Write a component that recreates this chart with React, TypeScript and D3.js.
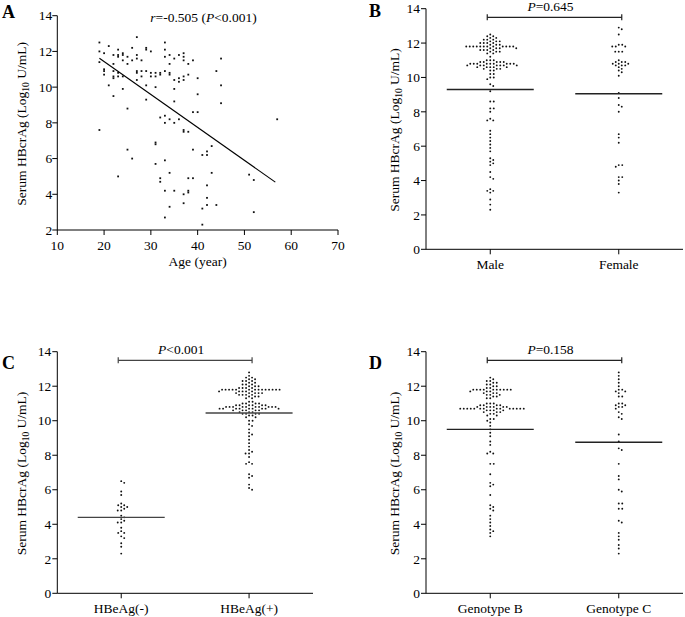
import React from 'react';
import * as d3 from 'd3';

const FONT = '"Liberation Serif", "Times New Roman", Times, serif';

// ---------- Panel A data ----------
const ageTicks = [10, 20, 30, 40, 50, 60, 70];
const yTicksA = [2, 4, 6, 8, 10, 12, 14];
const scatterPoints: [number, number][] = [
  [19, 12.5], [19, 12.0], [19, 11.4], [19, 7.6],
  [20, 11.9], [20, 11.0], [20, 10.9], [20, 10.7],
  [21, 12.3], [21, 10.1],
  [22, 11.8], [22, 11.3], [22, 10.9], [22, 10.6], [22, 10.5], [22, 9.5],
  [23, 12.1], [23, 11.8], [23, 11.7], [23, 10.8], [23, 10.6], [23, 5.0],
  [24, 11.9], [24, 11.8], [24, 11.5], [24, 10.6], [24, 9.9],
  [25, 11.7], [25, 11.3], [25, 8.8], [25, 6.5],
  [26, 12.2], [26, 11.5], [26, 6.0],
  [27, 12.8], [27, 11.8], [27, 11.6], [27, 10.9], [27, 10.8], [27, 10.4],
  [28, 11.5], [28, 10.9], [28, 10.6],
  [29, 12.2], [29, 12.1], [29, 10.9], [29, 10.1], [29, 9.3],
  [30, 12.0], [30, 10.8], [30, 10.6],
  [31, 10.8], [31, 10.6], [31, 10.0], [31, 6.9], [31, 6.8], [31, 5.7],
  [32, 10.8], [32, 10.7], [32, 8.3], [32, 4.9], [32, 4.7],
  [33, 12.5], [33, 12.1], [33, 11.7], [33, 10.9], [33, 8.4], [33, 8.0], [33, 5.9], [33, 4.2], [33, 2.7],
  [34, 11.8], [34, 11.3], [34, 10.8], [34, 10.7], [34, 8.2], [34, 5.2], [34, 3.3],
  [35, 11.6], [35, 10.4], [35, 9.9], [35, 9.2], [35, 8.0], [35, 4.2],
  [36, 11.8], [36, 10.5], [36, 10.3], [36, 8.2],
  [37, 11.9], [37, 11.7], [37, 11.5], [37, 10.6], [37, 10.4], [37, 7.6], [37, 7.5], [37, 4.0], [37, 3.5],
  [38, 11.3], [38, 10.7], [38, 7.5], [38, 4.9], [38, 4.2], [38, 4.1],
  [39, 11.5], [39, 8.6], [39, 6.5], [39, 4.9],
  [40, 10.5], [40, 9.6], [40, 8.6],
  [41, 6.2], [41, 3.2], [41, 2.3],
  [42, 6.4], [42, 6.2], [42, 4.5], [42, 3.8], [42, 3.4],
  [43, 6.7], [43, 5.2],
  [44, 10.9], [44, 3.4],
  [45, 11.6], [45, 10.1], [45, 9.1],
  [51, 5.1],
  [52, 4.8], [52, 3.0],
  [57, 8.2],
];
const regressionX = [19, 56.6];
const regressionY = [11.62, 4.68];

// ---------- Dot plot data ----------
const yTicksDot = [0, 2, 4, 6, 8, 10, 12, 14];

const sexCategories = ['Male', 'Female'];
const maleValues = [
  12.5, 12.4, 12.4, 12.3, 12.3, 12.2, 12.2, 12.2, 12.1, 12.1, 12.1,
  12.0, 12.0, 12.0, 12.0, 11.9, 11.9, 11.9,
  11.8, 11.8, 11.8, 11.8, 11.8, 11.8, 11.8, 11.8, 11.8, 11.8, 11.8, 11.8,
  11.7, 11.7, 11.7, 11.7, 11.6, 11.6, 11.6, 11.6, 11.5, 11.5, 11.5, 11.4, 11.4, 11.2,
  11.0, 11.0, 11.0, 10.9, 10.9, 10.9, 10.9, 10.9,
  10.8, 10.8, 10.8, 10.8, 10.8, 10.8, 10.8, 10.8, 10.8,
  10.7, 10.7, 10.7, 10.7, 10.7, 10.7, 10.7, 10.6, 10.6, 10.6, 10.6, 10.6,
  10.5, 10.5, 10.5, 10.4, 10.4, 10.2, 10.2, 10.0, 10.0, 9.9, 9.6, 9.5, 9.2,
  8.6, 8.6, 8.2, 8.2, 8.0, 7.6, 7.5, 7.5, 6.9, 6.7, 6.5, 6.3, 6.1, 5.9, 5.7,
  5.3, 5.2, 5.1, 5.0, 4.9, 4.5, 4.2, 4.1, 3.5, 3.4, 3.4, 3.3, 2.9, 2.6, 2.3,
];
const femaleValues = [
  12.9, 12.8, 12.5, 11.9, 11.9, 11.8, 11.8, 11.8, 11.5, 11.5, 11.5,
  11.0, 10.9, 10.9, 10.9, 10.8, 10.8, 10.8, 10.7, 10.7, 10.7, 10.6,
  10.5, 10.4, 10.3, 10.1, 9.1, 8.8, 8.4, 8.3, 8.0, 6.7, 6.5, 6.2,
  4.9, 4.9, 4.8, 4.2, 4.2, 4.0, 3.8, 3.3,
];
const sexMeans = [9.3, 9.05];

const hbeagCategories = ['HBeAg(-)', 'HBeAg(+)'];
const hbeagNegValues = [
  6.5, 6.4, 5.9, 5.7, 5.2, 5.1, 5.1, 5.0, 5.0, 4.9, 4.8, 4.8, 4.5, 4.4, 4.3,
  4.2, 4.1, 4.1, 3.8, 3.6, 3.5, 3.5, 3.3, 3.2, 2.9, 2.7, 2.3,
];
const hbeagPosValues = [
  12.8, 12.6, 12.5, 12.5, 12.4, 12.4, 12.3, 12.3, 12.3, 12.2, 12.2, 12.1, 12.1, 12.1,
  12.0, 12.0, 12.0, 11.9, 11.9, 11.9, 11.9,
  11.8, 11.8, 11.8, 11.8, 11.8, 11.8, 11.8, 11.8, 11.8, 11.8, 11.8, 11.8, 11.8, 11.8,
  11.7, 11.7, 11.7, 11.7, 11.7, 11.6, 11.6, 11.6, 11.6, 11.6,
  11.5, 11.5, 11.5, 11.5, 11.4, 11.4, 11.4, 11.3, 11.3, 11.1, 11.1,
  11.0, 11.0, 11.0, 11.0, 10.9, 10.9, 10.9, 10.9, 10.9, 10.9,
  10.8, 10.8, 10.8, 10.8, 10.8, 10.8, 10.8, 10.8, 10.8, 10.8,
  10.7, 10.7, 10.7, 10.7, 10.7, 10.7, 10.7, 10.7, 10.7,
  10.6, 10.6, 10.6, 10.6, 10.6, 10.5, 10.5, 10.5, 10.4, 10.4, 10.4, 10.4,
  10.3, 10.3, 10.2, 10.2, 10.0, 10.0, 9.8, 9.7, 9.5, 9.3, 9.2, 9.1, 8.9, 8.7, 8.5,
  8.3, 8.2, 8.1, 8.1, 7.9, 7.6, 7.5, 7.5, 6.9, 6.8, 6.7, 6.3, 6.1, 6.0,
];
const hbeagMeans = [4.4, 10.45];

const genotypeCategories = ['Genotype B', 'Genotype C'];
const genotypeBValues = [
  12.5, 12.4, 12.3, 12.3, 12.2, 12.2, 12.1, 12.1, 12.0, 12.0, 11.9, 11.9,
  11.8, 11.8, 11.8, 11.8, 11.8, 11.8, 11.8, 11.8, 11.8, 11.8,
  11.7, 11.7, 11.7, 11.6, 11.6, 11.6, 11.5, 11.5, 11.5, 11.4, 11.4, 11.3, 11.3,
  11.0, 11.0, 11.0, 10.9, 10.9, 10.9, 10.9, 10.8, 10.8, 10.8, 10.8, 10.8, 10.8,
  10.7, 10.7, 10.7, 10.7, 10.7, 10.7, 10.7, 10.7, 10.7, 10.7, 10.7, 10.7, 10.7, 10.7,
  10.6, 10.6, 10.6, 10.6, 10.5, 10.5, 10.5, 10.4, 10.4, 10.3, 10.3, 10.1, 10.1,
  10.0, 9.9, 9.7, 9.5, 9.3, 9.1, 8.8, 8.6, 8.2, 8.1, 8.1, 7.5, 7.5, 6.9,
  6.4, 6.3, 6.2, 5.7, 5.1, 5.0, 4.9, 4.8, 4.5, 4.3, 4.1, 3.9, 3.7, 3.6, 3.5, 3.3,
];
const genotypeCValues = [
  12.8, 12.6, 12.4, 12.2, 12.0, 11.8, 11.8, 11.7, 11.7, 11.6, 11.4, 11.4,
  11.0, 11.0, 10.9, 10.9, 10.8, 10.8, 10.7, 10.5, 10.4, 10.2, 10.1,
  9.2, 8.8, 8.4, 8.3, 7.5, 6.8, 6.6, 6.0, 5.9, 5.2, 5.2, 4.9, 4.9,
  4.2, 4.1, 3.5, 3.3, 3.1, 2.8, 2.6, 2.3,
];
const genotypeMeans = [9.5, 8.75];

// ---------- helpers ----------
const Y_LABEL_MAIN = 'Serum HBcrAg (Log';
const Y_LABEL_SUB = '10';
const Y_LABEL_END = ' U/mL)';

function YLabel({ x, y }: { x: number; y: number }) {
  return (
    <text
      transform={`translate(${x},${y}) rotate(-90)`}
      textAnchor="middle"
      fontFamily={FONT}
      fontSize={13.5}
      fill="#000"
    >
      {Y_LABEL_MAIN}
      <tspan fontSize={9.5} dy={3}>{Y_LABEL_SUB}</tspan>
      <tspan dy={-3}>{Y_LABEL_END}</tspan>
    </text>
  );
}

// collision-based beeswarm in pixel space
function swarm(values: number[], y: (v: number) => number, diam: number) {
  const sorted = [...values].sort((a, b) => b - a);
  const placed: { x: number; y: number }[] = [];
  const out: { v: number; dx: number }[] = [];
  const step = 0.5;
  for (const v of sorted) {
    const py = y(v);
    let chosen = 0;
    for (let k = 0; k < 200; k++) {
      const cand = k === 0 ? 0 : (k % 2 === 1 ? 1 : -1) * Math.ceil(k / 2) * step;
      let ok = true;
      for (const p of placed) {
        const dx = p.x - cand, dy = p.y - py;
        if (dx * dx + dy * dy < diam * diam) { ok = false; break; }
      }
      if (ok) { chosen = cand; break; }
    }
    placed.push({ x: chosen, y: py });
    out.push({ v, dx: chosen });
  }
  return out;
}

function PText({ x, y, op, val }: { x: number; y: number; op: string; val: string }) {
  return (
    <text x={x} y={y} textAnchor="middle" fontFamily={FONT} fontSize={13.5} fill="#000">
      <tspan fontStyle="italic">P</tspan>
      {op + val}
    </text>
  );
}

type DotPanelProps = {
  left: number; right: number; top: number; bottom: number;
  categories: string[]; groups: number[][]; means: number[];
  pOp: string; pVal: string; letter: string; letterX: number; letterY: number;
  labelX: number; color: string;
};

function DotPanel(p: DotPanelProps) {
  const y = d3.scaleLinear().domain([0, 14]).range([p.bottom, p.top]);
  const x = d3.scalePoint<string>().domain(p.categories).range([p.left, p.right]).padding(0.5);
  const bracketY = y(13.5);
  const x1 = x(p.categories[0])!;
  const x2 = x(p.categories[1])!;
  return (
    <g>
      <text x={p.letterX} y={p.letterY} fontFamily={FONT} fontWeight="bold" fontSize={18}>{p.letter}</text>
      {/* axes */}
      <line x1={p.left} x2={p.left} y1={p.top} y2={p.bottom} stroke="#000" strokeWidth={1} />
      <line x1={p.left} x2={p.right} y1={p.bottom} y2={p.bottom} stroke="#000" strokeWidth={1} />
      {yTicksDot.map((t) => (
        <g key={t}>
          <line x1={p.left - 5} x2={p.left} y1={y(t)} y2={y(t)} stroke="#000" />
          <text x={p.left - 6} y={y(t)} dy="0.35em" textAnchor="end" fontFamily={FONT} fontSize={13.5}>{t}</text>
        </g>
      ))}
      {p.categories.map((c) => (
        <g key={c}>
          <line x1={x(c)} x2={x(c)} y1={p.bottom} y2={p.bottom + 5} stroke="#000" />
          <text x={x(c)} y={p.bottom + 19.5} textAnchor="middle" fontFamily={FONT} fontSize={13.5}>{c}</text>
        </g>
      ))}
      <YLabel x={p.labelX} y={(p.top + p.bottom) / 2 + 1} />
      {/* dots */}
      {p.groups.map((g, gi) =>
        swarm(g, y, 3.1).map((d, i) => (
          <circle key={`${gi}-${i}`} cx={x(p.categories[gi])! + d.dx} cy={y(d.v)} r={0.95} fill="#111" />
        ))
      )}
      {/* mean lines */}
      {p.means.map((m, i) => (
        <line key={i} x1={x(p.categories[i])! - 43.5} x2={x(p.categories[i])! + 43.5} y1={y(m)} y2={y(m)} stroke={p.color} strokeWidth={1.4} />
      ))}
      {/* bracket */}
      <line x1={x1 - 3} x2={x2 + 3} y1={bracketY} y2={bracketY} stroke={p.color} strokeWidth={1.3} />
      <line x1={x1 - 3} x2={x1 - 3} y1={bracketY - 3} y2={bracketY + 3} stroke={p.color} strokeWidth={1.2} />
      <line x1={x2 + 3} x2={x2 + 3} y1={bracketY - 3} y2={bracketY + 3} stroke={p.color} strokeWidth={1.2} />
      <PText x={(x1 + x2) / 2 - 4} y={bracketY - 6} op={p.pOp} val={p.pVal} />
    </g>
  );
}

function ScatterPanel() {
  const left = 57.3, right = 338, top = 15.7, bottom = 230;
  const x = d3.scaleLinear().domain([10, 70]).range([left, right]);
  const y = d3.scaleLinear().domain([2, 14]).range([bottom, top]);
  const line = d3.line<number>().x((_, i) => x(regressionX[i])).y((d) => y(d));
  return (
    <g>
      <text x={2} y={18} fontFamily={FONT} fontWeight="bold" fontSize={18}>A</text>
      <line x1={left} x2={left} y1={top} y2={bottom} stroke="#000" />
      <line x1={left} x2={right} y1={bottom} y2={bottom} stroke="#000" />
      {yTicksA.map((t) => (
        <g key={t}>
          <line x1={left - 5} x2={left} y1={y(t)} y2={y(t)} stroke="#000" />
          <text x={left - 5} y={y(t)} dy="0.35em" textAnchor="end" fontFamily={FONT} fontSize={13.5}>{t}</text>
        </g>
      ))}
      {ageTicks.map((t) => (
        <g key={t}>
          <line x1={x(t)} x2={x(t)} y1={bottom} y2={bottom + 5} stroke="#000" />
          <text x={x(t)} y={bottom + 20} textAnchor="middle" fontFamily={FONT} fontSize={13.5}>{t}</text>
        </g>
      ))}
      <text x={(left + right) / 2 + 0} y={266} textAnchor="middle" fontFamily={FONT} fontSize={13.5}>Age (year)</text>
      <YLabel x={26} y={(top + bottom) / 2 + 1} />
      {scatterPoints.map((d, i) => (
        <rect key={i} x={x(d[0]) - 0.9} y={y(d[1]) - 0.9} width={1.8} height={1.8} fill="#111" />
      ))}
      <path d={line(regressionY) || ''} fill="none" stroke="#000" strokeWidth={1.1} />
      <text x={203.5} y={22} textAnchor="middle" fontFamily={FONT} fontSize={13.5}>
        <tspan fontStyle="italic">r</tspan>=-0.505 (<tspan fontStyle="italic">P</tspan>&lt;0.001)
      </text>
    </g>
  );
}

export default function App() {
  return (
    <svg
      width={685}
      height={617}
      viewBox="0 0 685 617"
      style={{ position: 'absolute', left: 0, top: 0, background: '#fff' }}
    >
      <rect width={685} height={617} fill="#fff" />
      <ScatterPanel />
      <DotPanel
        left={426} right={683} top={8.7} bottom={249.3}
        categories={sexCategories} groups={[maleValues, femaleValues]} means={sexMeans}
        pOp="=" pVal="0.645" letter="B" letterX={369} letterY={17} labelX={399} color="#222"
      />
      <DotPanel
        left={57.3} right={313} top={351.7} bottom={593.3}
        categories={hbeagCategories} groups={[hbeagNegValues, hbeagPosValues]} means={hbeagMeans}
        pOp="<" pVal="0.001" letter="C" letterX={2} letterY={369} labelX={26} color="#444"
      />
      <DotPanel
        left={426} right={683} top={351.7} bottom={593.3}
        categories={genotypeCategories} groups={[genotypeBValues, genotypeCValues]} means={genotypeMeans}
        pOp="=" pVal="0.158" letter="D" letterX={369} letterY={369} labelX={399} color="#222"
      />
    </svg>
  );
}
